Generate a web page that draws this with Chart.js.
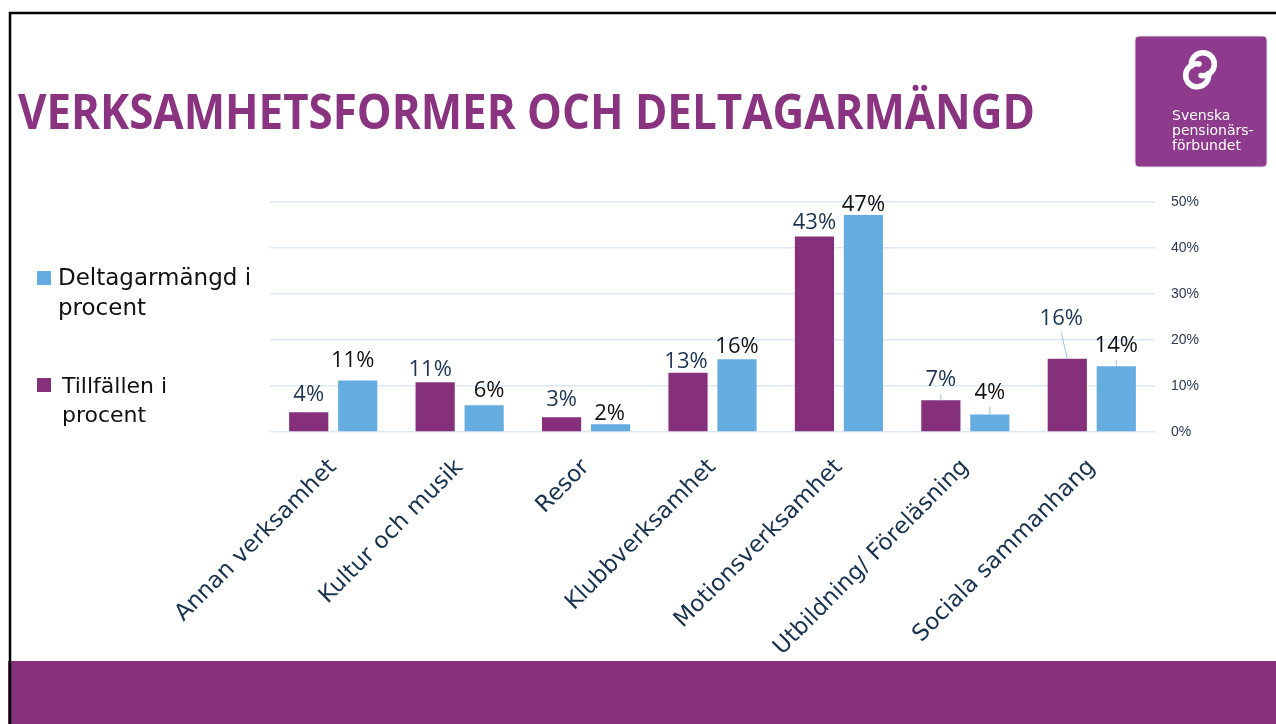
<!DOCTYPE html>
<html>
<head>
    <title>Verksamhetsformer och deltagarmängd</title>
    <meta charset="utf-8">
    <script src="https://cdn.jsdelivr.net/npm/chart.js"></script>
    <style>
        html, body {
            margin: 0;
            padding: 0;
            background: #ffffff;
            overflow: hidden;
        }

        #chart-container {
            position: absolute;
            left: 0;
            top: 0;
            width: 1276px;
            height: 724px;
        }

        #slide {
            position: absolute;
            left: 0;
            top: 0;
            pointer-events: none;
        }
    </style>
</head>
<body>
    <div id="chart-container">
        <canvas id="aktiviteter" width="1276" height="724"></canvas>
    </div>
    <svg id="slide" width="1276" height="724" xmlns="http://www.w3.org/2000/svg">
        <!-- slide frame and footer band -->
        <rect x="8" y="661" width="1268" height="63" fill="#87317b"></rect>
        <line x1="9" y1="13" x2="1276" y2="13" stroke="#000" stroke-width="2.5"></line>
        <line x1="10" y1="12" x2="10" y2="724" stroke="#000" stroke-width="2.5"></line>

        <text x="18" y="129" font-family="Open Sans" font-weight="bold" font-size="48" fill="#8a3380"
            textLength="1017" lengthAdjust="spacingAndGlyphs">VERKSAMHETSFORMER OCH DELTAGARMÄNGD</text>

        <!-- logo -->
        <rect x="1135" y="36" width="132" height="131" rx="4" fill="#8e3a8d" stroke="#e4dde4" stroke-width="1"></rect>
        <path d="M 1191.5 66 A 11.5 11.5 0 1 1 1201 75.5" fill="none" stroke="#fff" stroke-width="5.5" stroke-linecap="round"></path>
        <path d="M 1208.5 73.5 A 11.5 11.5 0 1 1 1199 64" fill="none" stroke="#fff" stroke-width="5.5" stroke-linecap="round"></path>
        <g font-family="DejaVu Sans" font-size="14" fill="#fff">
            <text x="1172" y="120">Svenska</text>
            <text x="1172" y="135">pensionärs-</text>
            <text x="1172" y="149.5">förbundet</text>
        </g>

        <!-- legend -->
        <g id="legend" font-family="DejaVu Sans" fill="#111">
            <rect id="legend-blue" x="37" y="271" width="14" height="14"></rect>
            <text x="58" y="285" font-size="23">Deltagarmängd i</text>
            <text x="58" y="315" font-size="23">procent</text>
            <rect id="legend-purple" x="37" y="378" width="14" height="14"></rect>
            <text x="62" y="393" font-size="22">Tillfällen i</text>
            <text x="62" y="422" font-size="22">procent</text>
        </g>
    </svg>
    <script>
        // Categories and values (percent)
        var categories = ['Annan verksamhet', 'Kultur och musik', 'Resor', 'Klubbverksamhet',
            'Motionsverksamhet', 'Utbildning/ Föreläsning', 'Sociala sammanhang'];
        var tillfallen = [4.3, 10.8, 3.2, 12.9, 42.5, 6.9, 15.9];
        var deltagare = [11.2, 5.8, 1.7, 15.8, 47.2, 3.8, 14.3];
        var yTicks = [0, 10, 20, 30, 40, 50];

        var purple = '#86307b';
        var blue = '#65ade0';

        document.getElementById('legend-blue').setAttribute('fill', blue);
        document.getElementById('legend-purple').setAttribute('fill', purple);

        // value labels above the bars, a few moved by hand like on the slide
        var valueLabels = {
            id: 'valueLabels',
            afterDatasetsDraw: function (chart, args, opts) {
                var ctx = chart.ctx;
                ctx.save();
                ctx.font = opts.font;
                ctx.textAlign = 'center';
                ctx.textBaseline = 'alphabetic';
                chart.data.datasets.forEach(function (ds, di) {
                    var meta = chart.getDatasetMeta(di);
                    meta.data.forEach(function (bar, i) {
                        var n = opts.nudge[di + ':' + i] || [0, 0, false];
                        var x = bar.x + n[0];
                        var y = bar.y - opts.gap - n[1];
                        if (n[2]) {
                            ctx.strokeStyle = opts.leaderColor;
                            ctx.lineWidth = 1;
                            ctx.beginPath();
                            ctx.moveTo(bar.x, bar.y);
                            ctx.lineTo(x, y + 8);
                            ctx.stroke();
                        }
                        ctx.fillStyle = opts.colors[di];
                        ctx.fillText(Math.round(ds.data[i]) + '%', x, y);
                    });
                });
                ctx.restore();
            }
        };

        var ctx = document.getElementById('aktiviteter').getContext('2d');
        var chart = new Chart(ctx, {
            type: 'bar',
            data: {
                labels: categories,
                datasets: [{
                    label: 'Tillfällen i procent',
                    data: tillfallen,
                    backgroundColor: purple,
                    categoryPercentage: 0.775,
                    barPercentage: 0.8
                }, {
                    label: 'Deltagarmängd i procent',
                    data: deltagare,
                    backgroundColor: blue,
                    categoryPercentage: 0.775,
                    barPercentage: 0.8
                }]
            },
            plugins: [valueLabels],
            options: {
                responsive: false,
                animation: false,
                devicePixelRatio: 1,
                layout: {
                    padding: { left: 270, top: 202, right: 41, bottom: 0 }
                },
                plugins: {
                    legend: { display: false },
                    tooltip: { enabled: false },
                    valueLabels: {
                        font: '22px "Open Sans"',
                        gap: 7,
                        colors: ['#1b3553', '#111111'],
                        leaderColor: '#9dc3e6',
                        nudge: {
                            '0:0': [0, 4, false],
                            '1:0': [-5, 6, false],
                            '0:1': [-5, -1, false],
                            '1:1': [5, 1, false],
                            '0:2': [0, 4, false],
                            '1:2': [-1, -3, false],
                            '0:3': [-2, -2, false],
                            '1:3': [0, -1, false],
                            '0:4': [0, 1, false],
                            '1:4': [0, -3, false],
                            '0:5': [0, 7, true],
                            '1:5': [0, 9, true],
                            '0:6': [-6, 27, true],
                            '1:6': [0, 7, true]
                        }
                    }
                },
                scales: {
                    x: {
                        grid: { display: false },
                        border: { display: false },
                        ticks: {
                            color: '#17324f',
                            font: { family: 'DejaVu Sans', size: 23 },
                            minRotation: 45,
                            maxRotation: 45,
                            autoSkip: false,
                            padding: 14
                        },
                        afterFit: function (scale) {
                            scale.height = 292;
                        }
                    },
                    y: {
                        position: 'right',
                        min: 0,
                        max: 50,
                        grid: { color: '#dce8f6', lineWidth: 1.5, drawTicks: false },
                        border: { display: false },
                        afterBuildTicks: function (scale) {
                            scale.ticks = yTicks.map(function (v) { return { value: v }; });
                        },
                        ticks: {
                            color: '#2b3a55',
                            font: { family: 'Liberation Sans', size: 14 },
                            padding: 16,
                            callback: function (v) { return v + '%'; }
                        },
                        afterFit: function (scale) {
                            scale.width = 80;
                        }
                    }
                }
            }
        });
    </script>
</body>
</html>
